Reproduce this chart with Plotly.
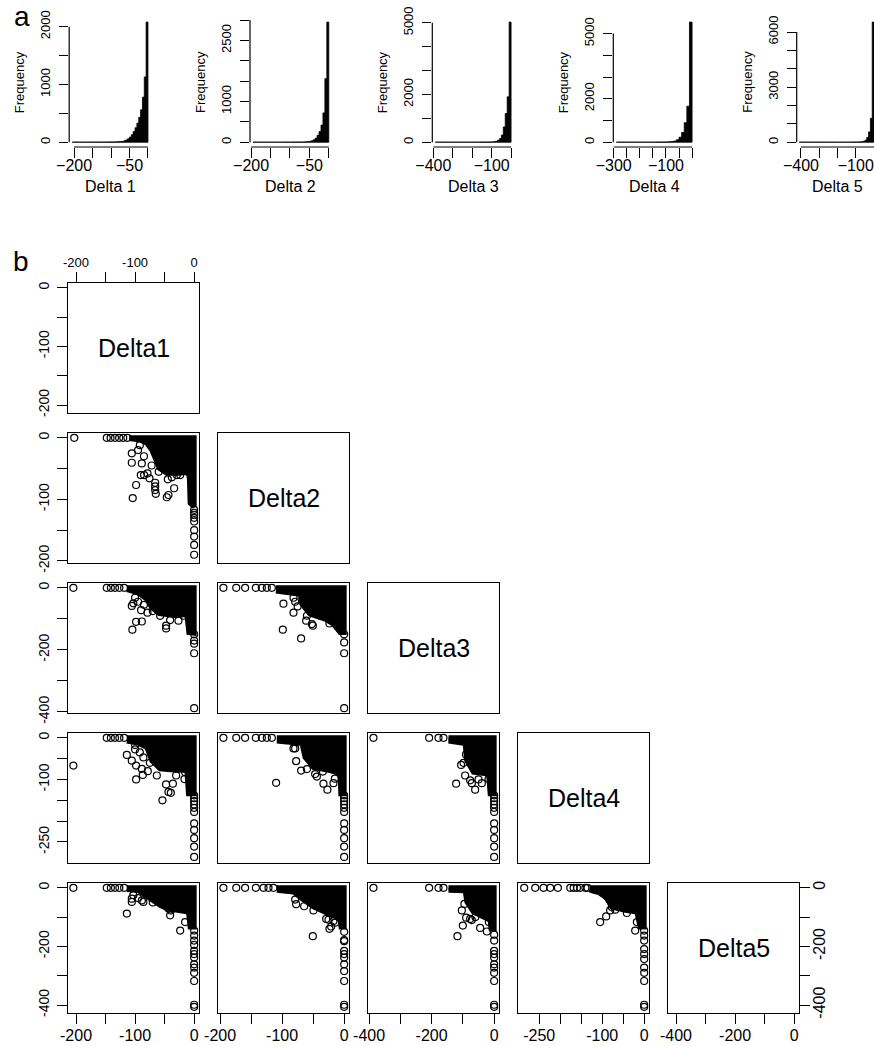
import plotly.graph_objects as go

# ------------------------------------------------------------------ data
delta_names = ["Delta1", "Delta2", "Delta3", "Delta4", "Delta5"]
hist_titles = ["Delta 1", "Delta 2", "Delta 3", "Delta 4", "Delta 5"]

# histogram bins: lower edge and bin width per variable, counts left -> right
hist_lower = [-205, -195, -390, -290, -410]
hist_bin_width = [5, 5, 10, 10, 10]

hist1_counts = [1, 1, 1, 1, 1, 1, 1, 1, 1, 1,
                1, 2, 1, 1, 2, 1, 2, 2, 2, 3,
                3, 4, 4, 5, 6, 8, 10, 15, 25, 40,
                60, 90, 130, 185, 250, 330, 430, 560, 780, 1130,
                2080]
hist2_counts = [1, 1, 1, 1, 1, 1, 1, 1, 1, 1,
                1, 1, 1, 1, 1, 1, 1, 1, 1,
                1, 2, 2, 2, 3, 3, 4, 5, 8, 12,
                20, 35, 60, 100, 170, 260, 420, 720, 1560, 2950]
hist3_counts = [1, 1, 1, 1, 1, 1, 1, 1, 1, 1,
                1, 1, 1, 1, 1, 1, 1, 1, 1,
                1, 2, 2, 2, 3, 3, 4, 5, 6, 8,
                12, 20, 40, 80, 150, 300, 640, 1200, 1900, 5030]
hist4_counts = [1, 1, 1, 1, 1, 1, 1, 1, 1,
                1, 2, 2, 2, 3, 3, 4, 5, 6, 8,
                10, 15, 28, 55, 110, 230, 450, 900, 1660, 5530]
hist5_counts = [1, 1, 1, 1, 1, 1, 1, 1, 1, 1,
                1, 1, 1, 1, 1, 1, 1, 1, 1, 1, 1,
                1, 1, 1, 2, 2, 2, 3, 3, 4, 5,
                6, 9, 14, 25, 50, 110, 260, 560, 1300, 6540]
hist_counts = [hist1_counts, hist2_counts, hist3_counts, hist4_counts, hist5_counts]

hist_xticks = [[-200, -150, -100, -50, 0],
               [-200, -150, -100, -50, 0],
               [-400, -300, -200, -100, 0],
               [-300, -250, -200, -150, -100, -50, 0],
               [-400, -300, -200, -100, 0]]
hist_xlabels = [["\u2212200", "", "", "\u221250", ""],
                ["\u2212200", "", "", "\u221250", ""],
                ["\u2212400", "", "", "\u2212100", ""],
                ["\u2212300", "", "", "", "\u2212100", "", ""],
                ["\u2212400", "", "", "\u2212100", ""]]
hist_yticks = [[0, 500, 1000, 1500, 2000],
               [0, 500, 1000, 1500, 2000, 2500, 3000],
               [0, 1000, 2000, 3000, 4000, 5000],
               [0, 1000, 2000, 3000, 4000, 5000],
               [0, 1000, 2000, 3000, 4000, 5000, 6000]]
hist_ylabels = [["0", "", "1000", "", "2000"],
                ["0", "", "1000", "", "", "2500", ""],
                ["0", "", "2000", "", "", "5000"],
                ["0", "", "2000", "", "", "5000"],
                ["0", "", "", "3000", "", "", "6000"]]

# pairs-plot ticks per variable (all ticks, and the ones carrying a label)
pair_ticks = [[-200, -150, -100, -50, 0],
              [-200, -150, -100, -50, 0],
              [-400, -300, -200, -100, 0],
              [-250, -200, -150, -100, -50, 0],
              [-400, -300, -200, -100, 0]]
pair_labelled = [[-200, -100, 0],
                 [-200, -100, 0],
                 [-400, -200, 0],
                 [-250, -100, 0],
                 [-400, -200, 0]]

# scatter panels: individual points and outline of the overplotted core
p21_x = [-203, -148, -141.5, -134, -127, -120, -113,
         -105.6, -105.6, -98.3, -104, -88.6, -90.4, -84.7, -79, -75.7, -66,
         -66, -66, -65, -46.3, -43.5, -33.9, -44.6, -37.8, -29.3, -23.6,
         -11.3, -95, -92, -85, -72, -60,
         0, 0, 0, 0, 0, 0, 0, 0, 0]
p21_y = [0, 0, 0, 0, 0, 0, 0,
         -25.3, -40.5, -76.7, -98, -41.6, -60.5, -60.5, -57.8, -65.9, -73,
         -79, -85, -91, -96.6, -92.9, -82, -67.5, -64.2, -60.5, -60.5,
         -55, -20, -12, -30, -45, -55,
         -117, -122, -125, -130, -136, -150, -160.5, -174, -190]
p21_core_x = [-110, 0, 0, -6.8, -8, -9.6, -23.7, -46.3, -58.8, -66, -71.7, -80, -91.5, -110]
p21_core_y = [0, 0, -112, -106, -68, -55, -57.7, -57.7, -49.6, -33, -20, -9, -3.7, -1]

p31_x = [-204.5, -148, -141, -134, -126.6, -118.6,
         -105.6, -103, -100, -89.8, -104.6, -98.3, -88.6, -79, -57.6, -47.5,
         -47.5, -40.7, -26.6, -18, -85, -70, -95,
         0, 0, 0, 0, 0]
p31_y = [0, 0, 0, 0, 0, 0,
         -58.5, -50, -32, -72, -135, -109.6, -108.6, -80, -90.4, -122,
         -131, -104, -106, -90, -55, -75, -45,
         -150, -170, -180, -211, -388]
p31_core_x = [-114, 0, 0, -9, -12.4, -29.3, -58.8, -71.7, -80, -94.4, -114]
p31_core_y = [0, 0, -146, -144, -85, -90, -83, -64, -37, -16, -6]

p41_x = [-148, -141, -134, -126.6, -118.6,
         -204.5, -114, -105.6, -100, -100, -98.3, -98.3, -88.6, -87, -78.5,
         -86, -63.2, -53.7, -47.5, -43.5, -39.5, -36, -30.5, -16.4, -15.3,
         -92, -75,
         0, 0, 0, 0, 0, 0, 0, 0, 0, 0, 0]
p41_y = [0, 0, 0, 0, 0,
         -66.7, -41, -54.8, -28, -17, -66.7, -100, -74.5, -89, -80,
         -47, -90.5, -150, -112, -130, -132, -110, -90.5, -99, -82.6,
         -35, -60,
         -138, -145, -152, -160, -168, -178, -205.5, -221, -241, -261, -286]
p41_core_x = [-114, 0, 0, -9.6, -12.4, -29.3, -57.6, -71.7, -80, -95.5, -114]
p41_core_y = [0, 0, -134, -134, -78, -78, -74.6, -55, -23, -12.7, -8]

p51_x = [-204.5, -148, -141, -134, -126.6, -118.6,
         -114, -105.6, -105.6, -103, -88.6, -86, -40.7, -39.5, -23.7, -15.3,
         -43.5, -95, -70,
         0, 0, 0, 0, 0, 0, 0, 0, 0, 0, 0, 0, 0]
p51_y = [0, 0, 0, 0, 0, 0,
         -88, -48, -37, -25, -43, -48, -94, -77, -146, -117,
         -71, -35, -50,
         -146, -163, -180, -195, -215, -226, -238, -261, -272, -290, -318, -399, -406]
p51_core_x = [-114, 0, 0, -6.8, -9.6, -23.7, -46.3, -57.6, -80, -95.5, -114]
p51_core_y = [0, 0, -134, -134, -83, -77, -71, -60, -31, -8, -6]

p32_x = [-194.7, -174, -159.7, -142.4, -132.7, -124.7, -116.6,
         -97.9, -98.9, -81.7, -81.7, -79, -69.4, -61.3, -52, -50.5, -38.7,
         -23.7, -17.2, -75, -60,
         0, 0, 0, 0]
p32_y = [0, 0, 0, 0, 0, 0, 0,
         -51, -135, -80, -32, -45, -163, -106, -117, -122, -90,
         -115, -106, -60, -90,
         -150, -176, -211, -388]
p32_core_x = [-110, 0, 0, -6.5, -17.2, -30.6, -55, -68, -71, -110]
p32_core_y = [0, 0, -144, -144, -117, -101, -85, -53, -21, -10]

p42_x = [-194.7, -174, -159.7, -142.4, -132.7, -124.7, -116.6,
         -109.7, -81.7, -79, -77.4, -69.4, -46.8, -44, -34.4, -33.4, -27,
         -17.2, -15, -60,
         0, 0, 0, 0, 0, 0, 0, 0, 0, 0, 0]
p42_y = [0, 0, 0, 0, 0, 0, 0,
         -108, -25.4, -25.4, -56, -78.6, -87, -93, -81, -110, -124.6,
         -109, -98, -75,
         -138, -145, -152, -160, -168, -178, -205.5, -221, -241, -261, -286]
p42_core_x = [-108.5, 0, 0, -5.4, -6.5, -22.6, -49.5, -63, -68, -108.5]
p42_core_y = [0, 0, -134, -134, -86, -78.6, -71, -47, -13.5, -8]

p52_x = [-194.7, -174, -159.7, -142.4, -130, -122, -114,
         -79, -77.4, -64.5, -49.5, -50.5, -29, -25.3, -23.7, -21, -17.2, -14.5,
         0, 0, 0, 0, 0, 0, 0, 0, 0, 0, 0]
p52_y = [0, 0, 0, 0, 0, 0, 0,
         -40, -56, -63, -77, -165, -106, -109, -140, -132, -113, -119,
         -150, -178, -182, -215, -226, -238, -261, -284, -318, -399, -406]
p52_core_x = [-108.5, 0, 0, -5, -6.5, -17.2, -30.6, -49.5, -68, -81.7, -108.5]
p52_core_y = [0, 0, -134, -134, -111, -94, -83, -65, -37, -14, -8]

p43_x = [-386, -208, -178, -162,
         -121.6, -105.6, -98, -92.8, -76.8, -71.4, -60.8, -39.4, -82, -18, -90, -50,
         0, 0, 0, 0, 0, 0, 0, 0, 0, 0, 0]
p43_y = [0, 0, 0, 0,
         -110, -65, -60, -90.5, -102, -109, -124.6, -109, -25.4, -99, -40, -100,
         -138, -145, -152, -160, -168, -178, -205.5, -221, -241, -261, -286]
p43_core_x = [-146, 0, 0, -12.8, -18, -66, -87.4, -92.8, -146]
p43_core_y = [0, 0, -134, -134, -87, -82.6, -55, -13.5, -8]

p53_x = [-386, -208, -178, -162,
         -117.4, -103.4, -100.2, -89.6, -76.8, -71.4, -44.8, -23.4, -17, -95, -60,
         0, 0, 0, 0, 0, 0, 0, 0, 0, 0, 0]
p53_y = [0, 0, 0, 0,
         -165, -77, -129, -102, -106, -110, -137, -149, -117, -55, -100,
         -160, -180, -215, -226, -238, -261, -272, -290, -318, -399, -406]
p53_core_x = [-146, 0, 0, -10, -12.8, -34, -66, -87.4, -92.8, -146]
p53_core_y = [0, 0, -140, -140, -111, -100, -83, -48, -10, -8]

p54_x = [-285.7, -259.5, -239.7, -223.8, -205.5, -176, -168, -160, -152, -140, -135,
         -104.8, -90.5, -81, -77, -69, -41.2, -21.4, -17.4, -100.7, -115,
         0, 0, 0, 0, 0, 0, 0, 0, 0, 0, 0]
p54_y = [0, 0, 0, 0, 0, 0, 0, 0, 0, 0, 0,
         -117, -97.6, -77, -65.5, -74.6, -86, -146, -117, -17, -8,
         -146, -163, -180, -209, -226, -243, -272, -290, -318, -399, -406]
p54_core_x = [-130, 0, 0, -9.5, -17.4, -45, -77, -89, -104.8, -130]
p54_core_y = [0, 0, -134, -134, -83, -77, -65.5, -37, -17, -8]

# (row, col) -> panel data, 0-based; row is the y variable, col the x variable
panels = {
    (1, 0): (p21_x, p21_y, p21_core_x, p21_core_y),
    (2, 0): (p31_x, p31_y, p31_core_x, p31_core_y),
    (3, 0): (p41_x, p41_y, p41_core_x, p41_core_y),
    (4, 0): (p51_x, p51_y, p51_core_x, p51_core_y),
    (2, 1): (p32_x, p32_y, p32_core_x, p32_core_y),
    (3, 1): (p42_x, p42_y, p42_core_x, p42_core_y),
    (4, 1): (p52_x, p52_y, p52_core_x, p52_core_y),
    (3, 2): (p43_x, p43_y, p43_core_x, p43_core_y),
    (4, 2): (p53_x, p53_y, p53_core_x, p53_core_y),
    (4, 3): (p54_x, p54_y, p54_core_x, p54_core_y),
}

# ------------------------------------------------------------------ layout
W, H = 874, 1046
FONT = "Liberation Sans, Arial, Helvetica, sans-serif"
INK = "black"

# axis limits of each variable in the pairs plot
pair_lo = [-213.6, -203.4, -403.5, -300.5, -427.1]
pair_hi = [8.2, 7.8, 15.5, 11.5, 16.4]

# histogram panel geometry (pixels)
hist_left_px = [69.2, 250, 432.3, 613.3, 796.7]
hist_width_px = 81.8
hist_top_px, hist_bottom_px = 17.3, 147
hist_xrange = [(-213.2, 8.2), (-202.8, 7.8), (-405.6, 15.6), (-301.6, 11.6), (-423.5, -0.3)]

# pairs grid geometry (pixels)
cell_left0, cell_top0, cell_step, cell_w, cell_h = 68, 283, 150, 131, 130


def fx(p):
    return p / W


def fy(p):
    return 1 - p / H


def keys(n):
    s = "" if n == 1 else str(n)
    return "xaxis" + s, "yaxis" + s, "x" + s, "y" + s


def base_axis():
    return dict(showgrid=False, zeroline=False, fixedrange=True, automargin=False,
                tickcolor=INK, tickwidth=1.2, linecolor=INK,
                tickfont=dict(family=FONT, size=14, color=INK))


layout = dict(width=W, height=H,
              margin=dict(l=0, r=0, t=0, b=0, pad=0, autoexpand=False),
              showlegend=False, paper_bgcolor="white", plot_bgcolor="white",
              font=dict(family=FONT, color=INK))
traces, shapes, annotations = [], [], []

# ---- panel a: histograms
for k in range(5):
    n = k + 1
    xa, ya, xr, yr = keys(n)
    counts = hist_counts[k]
    lo, w = hist_lower[k], hist_bin_width[k]
    mids = [lo + w * (i + 0.5) for i in range(len(counts))]
    traces.append(go.Bar(x=mids, y=counts, width=[w] * len(counts),
                         xaxis=xr, yaxis=yr, hoverinfo="skip",
                         marker=dict(color=INK, line=dict(color=INK, width=0.8))))
    left = hist_left_px[k]
    right = min(left + hist_width_px, W)
    ax = base_axis()
    ax.update(domain=[fx(left), fx(right)], range=list(hist_xrange[k]), anchor=yr,
              showline=False, ticks="outside", ticklen=10,
              tickmode="array", tickvals=hist_xticks[k], ticktext=hist_xlabels[k],
              tickfont=dict(family=FONT, size=16, color=INK), ticklabelstandoff=-6)
    layout[xa] = ax
    ymax = max(counts)
    ay = base_axis()
    ay.update(domain=[fy(hist_bottom_px), fy(hist_top_px)],
              range=[-0.04 * ymax, 1.04 * ymax], anchor=xr,
              showline=False, ticks="outside", ticklen=9, tickangle=-90,
              tickmode="array", tickvals=hist_yticks[k], ticktext=hist_ylabels[k],
              tickfont=dict(family=FONT, size=13, color=INK), ticklabelstandoff=4)
    layout[ya] = ay
    # R-style axis lines running from the first to the last tick
    shapes.append(dict(type="line", xref=xr + " domain", yref=yr, x0=0, x1=0,
                       y0=hist_yticks[k][0], y1=hist_yticks[k][-1],
                       line=dict(color=INK, width=1.2)))
    shapes.append(dict(type="line", xref=xr, yref=yr + " domain", y0=0, y1=0,
                       x0=hist_xticks[k][0], x1=hist_xticks[k][-1],
                       line=dict(color=INK, width=1.2)))
    annotations.append(dict(text="Frequency", textangle=-90, xref="paper", yref="paper",
                            x=fx(left - 49), y=fy(82), showarrow=False,
                            xanchor="center", yanchor="middle",
                            font=dict(family=FONT, size=13, color=INK)))
    annotations.append(dict(text=hist_titles[k], xref="paper", yref="paper",
                            x=fx(left + hist_width_px / 2), y=fy(187), showarrow=False,
                            xanchor="center", yanchor="middle",
                            font=dict(family=FONT, size=16, color=INK)))

# ---- panel b: lower-triangle pairs plot
n = 6
for i in range(5):
    for j in range(i + 1):
        xa, ya, xr, yr = keys(n)
        left = cell_left0 + cell_step * j
        top = cell_top0 + cell_step * i

        ax = base_axis()
        ax.update(domain=[fx(left), fx(left + cell_w)], range=[pair_lo[j], pair_hi[j]],
                  anchor=yr, showline=True, mirror=True, linewidth=1.3,
                  tickmode="array", tickvals=pair_ticks[j],
                  ticktext=[("%d" % v if v in pair_labelled[j] else "") for v in pair_ticks[j]],
                  ticks="", showticklabels=False)
        if i == 4:
            ax.update(ticks="outside", ticklen=10, showticklabels=True, side="bottom",
                      tickfont=dict(family=FONT, size=16, color=INK), ticklabelstandoff=-2)
        elif i == 0 and j == 0:
            ax.update(ticks="outside", ticklen=10, showticklabels=True, side="top",
                      tickfont=dict(family=FONT, size=13, color=INK))
        layout[xa] = ax

        ay = base_axis()
        ay.update(domain=[fy(top + cell_h), fy(top)], range=[pair_lo[i], pair_hi[i]],
                  anchor=xr, showline=True, mirror=True, linewidth=1.3,
                  tickmode="array", tickvals=pair_ticks[i],
                  ticktext=[("%d" % v if v in pair_labelled[i] else "") for v in pair_ticks[i]],
                  ticks="", showticklabels=False, tickangle=-90)
        if j == 0:
            ay.update(ticks="outside", ticklen=10, showticklabels=True, side="left",
                      tickfont=dict(family=FONT, size=14, color=INK), ticklabelstandoff=2)
        elif i == 4 and j == 4:
            ay.update(ticks="outside", ticklen=10, showticklabels=True, side="right",
                      tickfont=dict(family=FONT, size=16, color=INK), ticklabelstandoff=-4)
        layout[ya] = ay

        if i == j:
            traces.append(go.Scatter(x=[None], y=[None], xaxis=xr, yaxis=yr,
                                     mode="markers", hoverinfo="skip"))
            annotations.append(dict(text=delta_names[i], xref=xr + " domain",
                                    yref=yr + " domain", x=0.5, y=0.5, showarrow=False,
                                    xanchor="center", yanchor="middle",
                                    font=dict(family=FONT, size=25, color=INK)))
        else:
            px_, py_, cx_, cy_ = panels[(i, j)]
            traces.append(go.Scatter(x=cx_, y=cy_, xaxis=xr, yaxis=yr, mode="lines",
                                     fill="toself", fillcolor=INK,
                                     line=dict(color=INK, width=5), hoverinfo="skip"))
            traces.append(go.Scatter(x=px_, y=py_, xaxis=xr, yaxis=yr, mode="markers",
                                     hoverinfo="skip", cliponaxis=True,
                                     marker=dict(symbol="circle-open", size=7, color=INK,
                                                 line=dict(color=INK, width=1.2))))
        n += 1

# panel letters
annotations.append(dict(text="a", xref="paper", yref="paper", x=fx(21.7), y=fy(16.5),
                        showarrow=False, xanchor="center", yanchor="middle",
                        font=dict(family=FONT, size=28, color=INK)))
annotations.append(dict(text="b", xref="paper", yref="paper", x=fx(21), y=fy(261),
                        showarrow=False, xanchor="center", yanchor="middle",
                        font=dict(family=FONT, size=28, color=INK)))

layout["shapes"] = shapes
layout["annotations"] = annotations

fig = go.Figure(data=traces, layout=layout)
fig.write_html("out.html")
